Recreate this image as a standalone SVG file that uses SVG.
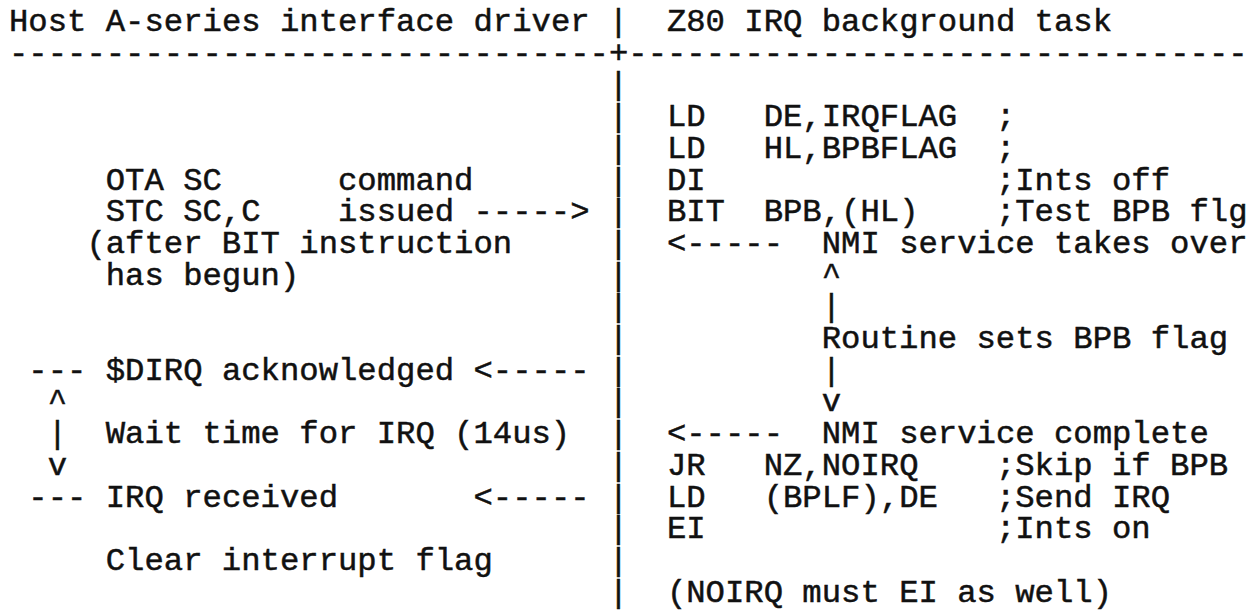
<svg xmlns="http://www.w3.org/2000/svg" width="1257" height="611" viewBox="0 0 1257 611" xml:space="preserve">
<style>
.t{font-family:"Liberation Mono",monospace;font-size:32.25px;fill:#111;stroke:#111;stroke-width:0.5px;white-space:pre}
</style>
<rect width="1257" height="611" fill="#fff"/>
<g id="header">
<text class="t" x="9" y="31">Host A-series interface driver</text>
<text class="t" x="666.9" y="31">Z80 IRQ background task</text>
<text class="t" x="9" y="62.7">-------------------------------+--------------------------------</text>
</g>
<g id="divider">
<text class="t" x="608.85" y="31">|</text>
<text class="t" x="608.85" y="94.4">|</text>
<text class="t" x="608.85" y="126.1">|</text>
<text class="t" x="608.85" y="157.8">|</text>
<text class="t" x="608.85" y="189.5">|</text>
<text class="t" x="608.85" y="221.2">|</text>
<text class="t" x="608.85" y="252.9">|</text>
<text class="t" x="608.85" y="284.6">|</text>
<text class="t" x="608.85" y="316.3">|</text>
<text class="t" x="608.85" y="348">|</text>
<text class="t" x="608.85" y="379.7">|</text>
<text class="t" x="608.85" y="411.4">|</text>
<text class="t" x="608.85" y="443.1">|</text>
<text class="t" x="608.85" y="474.8">|</text>
<text class="t" x="608.85" y="506.5">|</text>
<text class="t" x="608.85" y="538.2">|</text>
<text class="t" x="608.85" y="569.9">|</text>
<text class="t" x="608.85" y="601.6">|</text>
</g>
<g id="host">
<text class="t" x="105.75" y="189.5">OTA SC      command</text>
<text class="t" x="105.75" y="221.2">STC SC,C    issued -----&gt;</text>
<text class="t" x="86.4" y="252.9">(after BIT instruction</text>
<text class="t" x="105.75" y="284.6">has begun)</text>
<text class="t" x="28.35" y="379.7">--- $DIRQ acknowledged &lt;-----</text>
<text class="t" x="47.7" y="411.4">^</text>
<text class="t" x="47.7" y="443.1">|  Wait time for IRQ (14us)</text>
<text class="t" x="47.7" y="474.8">v</text>
<text class="t" x="28.35" y="506.5">--- IRQ received       &lt;-----</text>
<text class="t" x="105.75" y="569.9">Clear interrupt flag</text>
</g>
<g id="z80">
<text class="t" x="666.9" y="126.1">LD   DE,IRQFLAG  ;</text>
<text class="t" x="666.9" y="157.8">LD   HL,BPBFLAG  ;</text>
<text class="t" x="666.9" y="189.5">DI               ;Ints off</text>
<text class="t" x="666.9" y="221.2">BIT  BPB,(HL)    ;Test BPB flg</text>
<text class="t" x="666.9" y="252.9">&lt;-----  NMI service takes over</text>
<text class="t" x="821.7" y="284.6">^</text>
<text class="t" x="821.7" y="316.3">|</text>
<text class="t" x="821.7" y="348">Routine sets BPB flag</text>
<text class="t" x="821.7" y="379.7">|</text>
<text class="t" x="821.7" y="411.4">v</text>
<text class="t" x="666.9" y="443.1">&lt;-----  NMI service complete</text>
<text class="t" x="666.9" y="474.8">JR   NZ,NOIRQ    ;Skip if BPB</text>
<text class="t" x="666.9" y="506.5">LD   (BPLF),DE   ;Send IRQ</text>
<text class="t" x="666.9" y="538.2">EI               ;Ints on</text>
<text class="t" x="666.9" y="601.6">(NOIRQ must EI as well)</text>
</g>
</svg>
